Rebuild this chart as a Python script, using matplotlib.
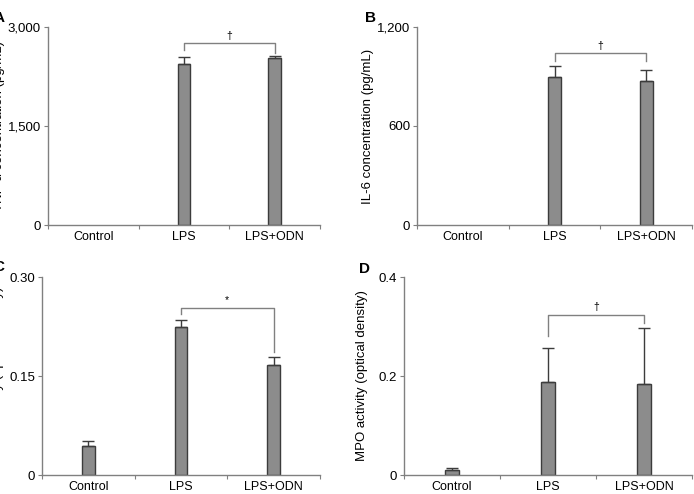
import matplotlib.pyplot as plt
import numpy as np

plt.rcParams["font.family"] = ["Liberation Sans", "DejaVu Sans"]

groups = ["Control", "LPS", "LPS+ODN"]

tnf_mean = [0, 2443, 2530]
tnf_err = [0, 100, 35]

il6_mean = [0, 894, 874]
il6_err = [0, 67, 67]

nfkb_mean = [0.044, 0.224, 0.166]
nfkb_err = [0.007, 0.011, 0.013]

mpo_mean = [0.010, 0.187, 0.184]
mpo_err = [0.005, 0.070, 0.112]

BAR_FILL = "#8c8c8c"
BAR_EDGE = "#3c3c3c"
AXIS_GRAY = "#808080"


def draw_panel(fig, rect, means, errs, ymax, yticks, ylabel, tag, tag_xy,
               mark, bracket, ylabel_x):
    ax = fig.add_axes(rect)
    means = np.asarray(means, dtype=float)
    errs = np.asarray(errs, dtype=float)
    x = np.arange(len(groups))
    shown = means > 0
    ax.bar(x[shown], means[shown], width=0.14, color=BAR_FILL,
           edgecolor=BAR_EDGE, linewidth=1.0, zorder=2)
    ax.errorbar(x[shown], means[shown],
                yerr=[np.zeros(shown.sum()), errs[shown]], fmt="none",
                ecolor=BAR_EDGE, elinewidth=1.0, capsize=4, capthick=1.0,
                zorder=3)

    ax.set_xlim(-0.5, 2.5)
    ax.set_ylim(0, ymax)
    ax.set_yticks(yticks[0])
    ax.set_yticklabels(yticks[1], fontsize=9.5)
    ax.set_xticks([-0.5, 0.5, 1.5, 2.5])
    ax.set_xticklabels([])
    ax.set_xticks(x, minor=True)
    ax.set_xticklabels(groups, minor=True, fontsize=9)
    ax.tick_params(axis="x", which="minor", length=0, pad=4)
    ax.tick_params(axis="x", which="major", length=3, color=AXIS_GRAY,
                   direction="out")
    ax.tick_params(axis="y", length=3, color=AXIS_GRAY, pad=2)

    for side in ["top", "right"]:
        ax.spines[side].set_visible(False)
    for side in ["left", "bottom"]:
        ax.spines[side].set_color(AXIS_GRAY)
        ax.spines[side].set_linewidth(1.0)

    # significance bracket between LPS and LPS+ODN
    top, left_end, right_end = bracket
    ax.plot([1, 1, 2, 2], [left_end, top, top, right_end], color=AXIS_GRAY,
            linewidth=1.0, clip_on=False)
    ax.text(1.5, top + ymax * 0.012, mark, ha="center", va="bottom",
            fontsize=7.5)

    fig.text(ylabel_x, rect[1] + rect[3] / 2, ylabel, rotation=90,
             ha="center", va="center", fontsize=9.5)
    fig.text(tag_xy[0], tag_xy[1], tag, fontsize=11, fontweight="bold",
             ha="center", va="center")
    return ax


fig = plt.figure(figsize=(6.94, 4.94), dpi=100)

W, H = 694.0, 494.0

draw_panel(fig, [48 / W, 1 - 225 / H, 272 / W, 198 / H], tnf_mean, tnf_err,
           3000, ([0, 1500, 3000], ["0", "1,500", "3,000"]),
           "TNF-α concentration (pg/mL)", "A", (-1 / W, 1 - 18 / H),
           "†", (2757, 2656, 2605), -1 / W)

draw_panel(fig, [417 / W, 1 - 225 / H, 275 / W, 198 / H], il6_mean, il6_err,
           1200, ([0, 600, 1200], ["0", "600", "1,200"]),
           "IL-6 concentration (pg/mL)", "B", (370 / W, 1 - 18 / H),
           "†", (1042, 992, 992), 368 / W)

draw_panel(fig, [42 / W, 1 - 475 / H, 278 / W, 198 / H], nfkb_mean, nfkb_err,
           0.30, ([0, 0.15, 0.30], ["0", "0.15", "0.30"]),
           "NF-κB activity (optical density)", "C", (-1 / W, 1 - 267 / H),
           "*", (0.2531, 0.2445, 0.1866), -2 / W)

draw_panel(fig, [404 / W, 1 - 475 / H, 288 / W, 198 / H], mpo_mean, mpo_err,
           0.4, ([0, 0.2, 0.4], ["0", "0.2", "0.4"]),
           "MPO activity (optical density)", "D", (364 / W, 1 - 269 / H),
           "†", (0.324, 0.2803, 0.307), 362 / W)

fig.savefig("out.png", dpi=100)
